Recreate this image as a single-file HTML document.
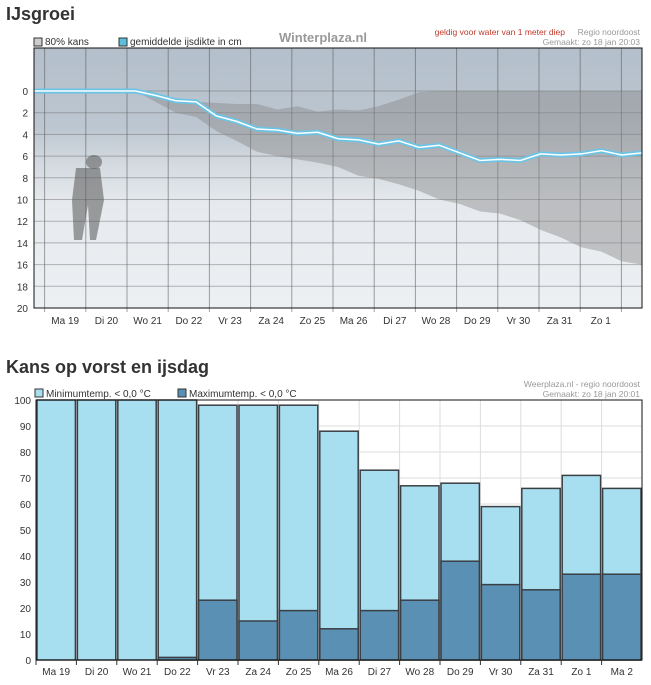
<!DOCTYPE html>
<html><head><meta charset="utf-8">
<style>
body{margin:0;width:651px;height:685px;background:#fff;font-family:"Liberation Sans",sans-serif;overflow:hidden}
svg{position:absolute;left:0;top:0}
</style></head><body>
<svg width="651" height="685">
<defs>
<linearGradient id="bg" x1="0" y1="0" x2="0" y2="1">
<stop offset="0" stop-color="#b3bfcb"/><stop offset="0.3" stop-color="#bcc6d0"/>
<stop offset="0.45" stop-color="#d4dae0"/><stop offset="0.6" stop-color="#e6eaee"/><stop offset="1" stop-color="#edf0f3"/>
</linearGradient>
</defs>
<g id="top">
<text x="6" y="20" font-size="18" font-weight="bold" fill="#333">IJsgroei</text>
<rect x="34" y="38" width="8" height="8" fill="#ccc" stroke="#333"/>
<text x="45" y="45" font-size="10" fill="#333">80% kans</text>
<rect x="119" y="38" width="8" height="8" fill="#5bc0de" stroke="#333"/>
<text x="130" y="45" font-size="10" fill="#333">gemiddelde ijsdikte in cm</text>
<text x="279" y="42" font-size="13" font-weight="bold" fill="#999">Winterplaza.nl</text>
<text x="565" y="35" font-size="8.5" fill="#c0392b" text-anchor="end">geldig voor water van 1 meter diep</text>
<text x="640" y="35" font-size="8.5" fill="#999" text-anchor="end">Regio noordoost</text>
<text x="640" y="45" font-size="8.5" fill="#999" text-anchor="end">Gemaakt: zo 18 jan 20:03</text>
<rect x="34" y="48" width="608" height="260" fill="url(#bg)"/>
<g id="tg"></g>
<path id="band" fill="#8a8a8a" fill-opacity="0.45"/>
<g id="person" fill="#555" fill-opacity="0.55">
<ellipse cx="94" cy="162" rx="8" ry="7"/><path d="M76 168 L100 168 L104 200 L96 240 L90 240 L88 205 L82 240 L74 240 L72 200 Z"/>
</g>
<path id="mline" fill="none" stroke="#6cc4e4" stroke-width="5"/>
<path id="mline2" fill="none" stroke="#fff" stroke-width="1.5"/>
<rect x="34" y="48" width="608" height="260" fill="none" stroke="#111"/>
<g id="tax" font-size="10" fill="#333"></g>
</g>
<g id="bot">
<text x="6" y="373" font-size="18" font-weight="bold" fill="#333">Kans op vorst en ijsdag</text>
<rect x="35" y="389" width="8" height="8" fill="#a8dff0" stroke="#333"/>
<text x="46" y="397" font-size="10" fill="#333">Minimumtemp. &lt; 0,0 °C</text>
<rect x="178" y="389" width="8" height="8" fill="#5a90b4" stroke="#333"/>
<text x="189" y="397" font-size="10" fill="#333">Maximumtemp. &lt; 0,0 °C</text>
<text x="640" y="387" font-size="8.5" fill="#999" text-anchor="end">Weerplaza.nl - regio noordoost</text>
<text x="640" y="397" font-size="8.5" fill="#999" text-anchor="end">Gemaakt: zo 18 jan 20:01</text>
<g id="bg2"></g>
<g id="bars"></g>
<rect x="36" y="400" width="606" height="260" fill="none" stroke="#111"/>
<g id="bax" font-size="10" fill="#333"></g>
</g>
</svg>
<script>
const days1=["Ma 19","Di 20","Wo 21","Do 22","Vr 23","Za 24","Zo 25","Ma 26","Di 27","Wo 28","Do 29","Vr 30","Za 31","Zo 1"];
const meanIce=[0,0,0,0,0,0,0.4,0.9,1.0,2.3,2.8,3.5,3.6,3.9,3.8,4.4,4.5,4.9,4.6,5.2,5.0,5.7,6.4,6.3,6.4,5.8,5.9,5.8,5.5,5.9,5.7];
const bandLow=[0,0,0,0,0,0,0.4,0.9,1.0,1.1,1.2,1.2,1.7,1.4,1.9,1.7,1.8,1.4,0.8,0.1,0,0,0,0,0,0,0,0,0,0,0];
const bandHigh=[0,0,0,0,0,0,1.0,2.0,2.4,3.7,4.6,5.6,6.0,6.3,6.6,7.0,7.8,8.1,8.6,9.2,10.0,10.4,11.1,11.3,11.9,12.8,13.5,14.4,14.8,15.7,16];
const yTicks1=[0,2,4,6,8,10,12,14,16,18,20];
const days2=["Ma 19","Di 20","Wo 21","Do 22","Vr 23","Za 24","Zo 25","Ma 26","Di 27","Wo 28","Do 29","Vr 30","Za 31","Zo 1","Ma 2"];
const minTemp=[100,100,100,100,98,98,98,88,73,67,68,59,66,71,66];
const maxTemp=[0,0,0,1,23,15,19,12,19,23,38,29,27,33,33];
const yTicks2=[0,10,20,30,40,50,60,70,80,90,100];
const NS="http://www.w3.org/2000/svg";
function mk(p,t,a){const e=document.createElementNS(NS,t);for(const k in a)e.setAttribute(k,a[k]);p.appendChild(e);return e;}
const L=34,R=642,T=48,B=308;
const y1=v=>91+v*(B-91)/20;
const dayW=41.2,firstB=44.6;
const x1=i=>L+i*(R-L)/(meanIce.length-1);
const tg=document.getElementById('tg'),tax=document.getElementById('tax');
yTicks1.forEach(v=>{const l=mk(tg,'line',{x1:L,x2:R,y1:y1(v),y2:y1(v),stroke:'#666','stroke-opacity':0.45});

const t=mk(tax,'text',{x:28,y:y1(v)+4,'text-anchor':'end'});t.textContent=v;
});
for(let i=0;i<15;i++){const x=firstB+i*dayW;const l=mk(tg,'line',{x1:x,x2:x,y1:T,y2:B+4,stroke:'#555','stroke-opacity':0.55});
}
days1.forEach((d,i)=>{const t=mk(tax,'text',{x:firstB+dayW*(i+0.5),y:324,'text-anchor':'middle'});t.textContent=d;
});
let bp='M'+bandLow.map((v,i)=>x1(i)+','+y1(v)).join(' L');
bp+=' L'+bandHigh.map((v,i)=>x1(i)+','+y1(v)).reverse().join(' L')+' Z';
document.getElementById('band').setAttribute('d',bp);
const mp='M'+meanIce.map((v,i)=>x1(i)+','+y1(v)).join(' L');
document.getElementById('mline').setAttribute('d',mp);document.getElementById('mline2').setAttribute('d',mp);
const L2=36,R2=642,T2=400,B2=660;
const y2=v=>B2-v*(B2-T2)/100;
const bw=(R2-L2)/days2.length;
const g2=document.getElementById('bg2'),bars=document.getElementById('bars'),bax=document.getElementById('bax');
yTicks2.forEach(v=>{const l=mk(g2,'line',{x1:L2,x2:R2,y1:y2(v),y2:y2(v),stroke:'#ddd'});

const t=mk(bax,'text',{x:31,y:y2(v)+4,'text-anchor':'end'});t.textContent=v;
});
days2.forEach((d,i)=>{const x=L2+i*bw;
const l=mk(g2,'line',{x1:x+bw,x2:x+bw,y1:T2,y2:B2,stroke:'#ddd'});

const tk=mk(bax,'line',{x1:x,x2:x,y1:B2,y2:B2+5,stroke:'#333'});

const b=mk(bars,'rect',{x:x+1,y:y2(minTemp[i]),width:bw-2,height:y2(0)-y2(minTemp[i]),fill:'#a8dff0',stroke:'#3a3f44','stroke-width':1.5});

if(maxTemp[i]>0){const c=mk(bars,'rect',{x:x+1,y:y2(maxTemp[i]),width:bw-2,height:y2(0)-y2(maxTemp[i]),fill:'#5a90b4',stroke:'#3a3f44','stroke-width':1.5});
}
const t=mk(bax,'text',{x:x+bw/2,y:675,'text-anchor':'middle'});t.textContent=d;
});
</script>
</body></html>
